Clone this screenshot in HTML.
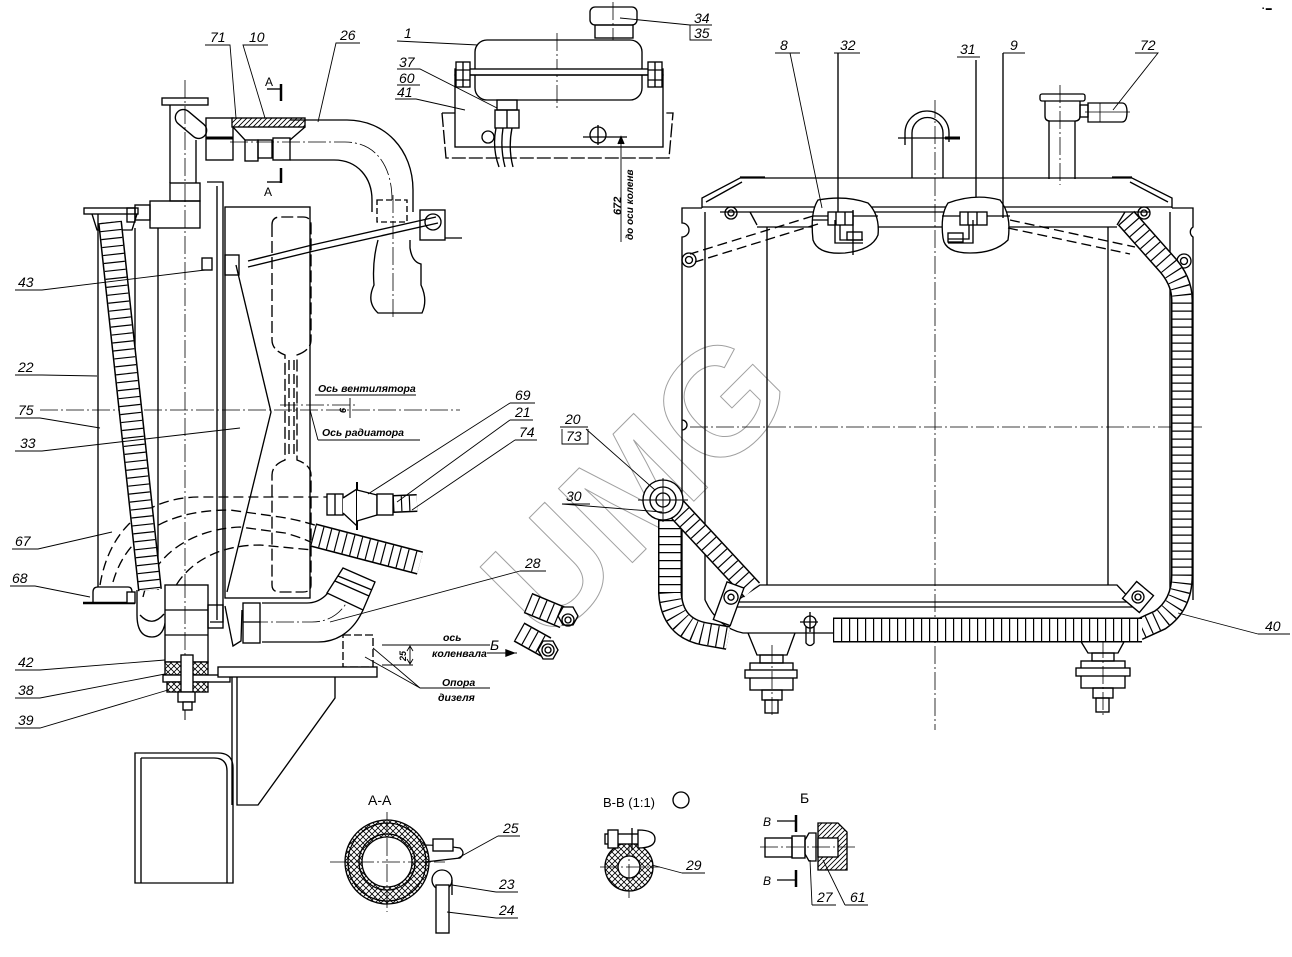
<!DOCTYPE html>
<html><head><meta charset="utf-8">
<style>
html,body{margin:0;padding:0;background:#fff;}
svg{display:block}
text{font-family:"Liberation Sans",sans-serif;font-style:italic;fill:#000;stroke:none}
.cl{stroke-dasharray:18 3 2 3;stroke-width:0.8}
.ds{stroke-dasharray:10 5}
</style></head><body>
<svg width="1292" height="957" viewBox="0 0 1292 957" xmlns="http://www.w3.org/2000/svg">
<defs>
<pattern id="xh" width="6" height="6" patternUnits="userSpaceOnUse"><rect width="6" height="6" fill="#fff"/><path d="M0 0L6 6M6 0L0 6" stroke="#000" stroke-width="0.8"/></pattern>
<pattern id="dh" width="5" height="5" patternUnits="userSpaceOnUse"><rect width="5" height="5" fill="#fff"/><path d="M0 5L5 0M-1 1L1 -1M4 6L6 4" stroke="#000" stroke-width="0.9"/></pattern>
<path id="h1" d="M110 222 L150 590"/>
<path id="h2" d="M313 535 L420 563"/>
<path id="h3" d="M393 504 L417 503"/>
<path id="h4" d="M1126 218 L1165 262 Q1182 280 1182 300 V575 Q1182 605 1160 620 L1138 630"/>
<path id="h5" d="M833 630 H1142"/>
<path id="h6" d="M670 520 V593 Q672 628 705 634 L728 638"/>
<path id="h7" d="M676 508 L752 590"/>
<path id="h8" d="M528 603 L564 618"/>
<path id="h9" d="M519 632 L546 647"/>
</defs>
<rect width="1292" height="957" fill="#fff"/>

<!-- UMG watermark -->
<text x="0" y="0" transform="translate(673,522) rotate(-45)" text-anchor="middle" font-size="152" font-weight="bold" style="font-style:normal;fill:none;stroke:#a0a0a0;stroke-width:1">UMG</text>

<g fill="none" stroke="#000" stroke-width="1.35">

<!-- ================= LEFT VIEW ================= -->
<path class="cl" d="M185 80 V720"/>
<path class="cl" d="M40 410 H460"/>
<path class="cl" d="M280 405 H356"/>
<path class="cl" d="M393 195 V320"/>
<path class="cl" d="M230 142 H345 C375 142 392 165 392 200"/>

<!-- filler neck -->
<rect x="162" y="98" width="46" height="7"/>
<path d="M170 105 V183 M196 140 V183"/>
<rect x="-18" y="-8" width="36" height="16" rx="8" transform="translate(191,124) rotate(40)"/>
<rect x="170" y="183" width="30" height="18"/>
<rect x="150" y="201" width="50" height="27"/>
<rect x="135" y="205" width="15" height="15"/>
<rect x="84" y="208" width="54" height="6"/>
<path d="M92 214 L97 230 H132 L137 214"/>
<rect x="127" y="208" width="8" height="14"/>

<!-- couplings -->
<rect x="206" y="118" width="27" height="42"/>
<path d="M206 138 H233" stroke-width="3"/>
<rect x="232" y="118" width="73" height="9" fill="url(#dh)"/>
<path d="M233 127 L245 140 M305 127 L290 140"/>
<rect x="245" y="140" width="13" height="21"/>
<rect x="258" y="140" width="14" height="18"/>
<rect x="273" y="138" width="17" height="22"/>

<!-- pipe 26 -->
<path d="M290 120 H347 C385 120 413 150 413 190 V212"/>
<path d="M290 160 H334 C358 160 372 178 372 200 V212"/>
<rect x="377" y="200" width="30" height="22" stroke-dasharray="6 3"/>
<rect x="420" y="210" width="25" height="30"/>
<circle cx="433" cy="222" r="8"/>
<path d="M445 238 H462"/>
<path d="M378 240 Q372 262 374 285 Q366 302 378 313 H422 Q428 300 421 285 V264 Q412 262 410 248 L410 240"/>
<!-- rod 43 -->
<path d="M436 217 L312 245 L248 261 M438 223 L314 251 L248 267"/>
<rect x="202" y="258" width="10" height="12"/>
<rect x="225" y="255" width="14" height="20"/>
<path d="M207 182 H223 V622 H210 M217 186 V620"/>

<!-- section A marks -->
<path d="M267 89 H280" /><path d="M281 84 V101" stroke-width="2.5"/>
<path d="M267 182 H280" /><path d="M281 168 V183" stroke-width="2.5"/>

<!-- left verticals -->
<path d="M98 214 V587 M135 228 V420 M158 228 V590"/>
<rect x="225" y="207" width="85" height="391"/>
<path stroke-dasharray="12 4" d="M272 225 V340 Q272 350 285 355 V460 Q272 465 272 475 V585 Q272 592 280 592 H303 Q311 592 311 585 V475 Q311 465 297 460 V355 Q311 350 311 340 V225 Q311 217 303 217 H280 Q272 217 272 225 Z"/>
<path stroke-dasharray="10 4" d="M289 360 V455 M294 360 V455"/>
<path d="M236 265 L271 412 L227 592"/>

<!-- dashed hoses 67 -->
<path class="ds" d="M100 585 C110 525 150 497 200 497 H330"/>
<path class="ds" d="M113 582 C125 540 160 510 230 510 L280 517 C300 520 315 525 330 530"/>
<path class="ds" d="M143 597 C150 565 180 530 240 527 L285 533 C300 537 312 542 320 547"/>
<path class="ds" d="M170 598 C180 570 210 545 260 545 L313 550"/>

<!-- hatched hoses left -->
<use href="#h1" stroke-width="24"/><use href="#h1" stroke="#fff" stroke-width="21"/><use href="#h1" stroke-width="21" stroke-dasharray="1.2 6.8"/>
<use href="#h2" stroke-width="24"/><use href="#h2" stroke="#fff" stroke-width="21"/><use href="#h2" stroke-width="21" stroke-dasharray="1.2 6.8"/>
<use href="#h3" stroke-width="18"/><use href="#h3" stroke="#fff" stroke-width="15"/><use href="#h3" stroke-width="15" stroke-dasharray="1.2 6.8"/>
<path d="M137 590 V615 Q137 637 152 637 Q166 637 166 612 M140 615 Q152 628 164 614"/>

<!-- fitting 69 -->
<rect x="327" y="494" width="16" height="21" fill="#fff"/>
<path d="M335 494 V515"/>
<path d="M343 498 L357 489 V526 L343 513" fill="#fff"/>
<path d="M357 482 V530" stroke-width="2"/>
<path d="M357 490 L377 495 V515 L357 521" fill="#fff"/>
<rect x="377" y="494" width="16" height="21" fill="#fff"/>

<!-- plate 68 -->
<path d="M93 603 V592 Q93 587 98 587 H128 Q132 587 132 592 V603" fill="#fff"/>
<path d="M83 603 H135" stroke-width="2.5"/>
<rect x="127" y="592" width="8" height="11" fill="#fff"/>

<!-- bottom block and mount -->
<rect x="165" y="585" width="43" height="77" fill="#fff"/>
<path d="M165 610 H208 M165 635 H208"/>
<path class="cl" d="M185 580 V720"/>
<rect x="208" y="605" width="15" height="23"/>
<rect x="165" y="662" width="43" height="13" fill="url(#xh)"/>
<rect x="163" y="675" width="67" height="7" fill="#fff"/>
<rect x="167" y="682" width="41" height="10" fill="url(#xh)"/>
<rect x="181" y="655" width="12" height="37" fill="#fff"/>
<rect x="178" y="692" width="17" height="10" fill="#fff"/>
<rect x="183" y="702" width="9" height="8" fill="#fff"/>

<rect x="243" y="603" width="17" height="40"/>
<path d="M243 622 H260"/>
<path d="M225 606 L233 646 L241 641 L242 610"/>

<!-- pipe 28 -->
<path d="M262 603 H307 C322 603 330 592 337 580"/>
<path d="M262 642 H318 C340 642 355 628 363 610"/>
<path class="cl" d="M250 622 H312 C332 622 345 610 352 592"/>
<polygon points="327,593 343,568 375,582 363,610" fill="#fff"/>
<path d="M335 581 L369 596 M338 576 L372 590"/>

<!-- support -->
<rect x="343" y="635" width="30" height="32" stroke-dasharray="8 3"/>
<rect x="218" y="667" width="159" height="10" fill="#fff"/>
<path d="M232 677 V805 M237 677 V805 H258 L335 698 V677"/>
<path d="M382 645 H490 M382 665 H413" stroke-width="0.9"/>
<path d="M410 647 V663" stroke-width="0.9"/>
<path d="M407 651 L410 646 L413 651 M407 659 L410 664 L413 659" stroke-width="0.9"/>
<path d="M373 648 L420 688 H490 M365 657 L420 688" stroke-width="0.9"/>
<path d="M135 753 H218 Q233 753 233 768 V883 H135 Z"/>
<path d="M141 758 V883 M141 758 H214 Q227 758 227 771 V883"/>

<!-- ================= EXPANSION TANK ================= -->
<rect x="590" y="7" width="47" height="18" rx="5"/>
<rect x="595" y="25" width="38" height="13"/>
<path class="cl" d="M613 2 V40 M557 33 V108"/>
<rect x="475" y="40" width="167" height="60" rx="12"/>
<rect x="455" y="69" width="208" height="6" fill="#fff"/>
<rect x="455" y="75" width="208" height="72"/>
<path d="M442 113 H455 M442 113 L446 158 H669 L673 113 H663" stroke-dasharray="14 3"/>
<rect x="456" y="62" width="14" height="25" fill="#fff"/><path d="M456 70 H470 M456 80 H470 M463 62 V87"/>
<rect x="648" y="62" width="14" height="25" fill="#fff"/><path d="M648 70 H662 M648 80 H662 M655 62 V87"/>
<rect x="497" y="100" width="20" height="10"/>
<rect x="495" y="110" width="24" height="18"/>
<path d="M507 110 V128"/>
<path d="M496 128 Q492 148 499 167 M503 128 Q500 148 505 167 M512 128 Q508 148 513 167"/>
<circle cx="488" cy="137" r="6"/>
<circle cx="598" cy="135" r="8"/>
<path d="M598 125 V145 M583 137 H627"/>
<path d="M621 137 V242" stroke-width="0.9"/>
<path d="M618 144 L621 137 L624 144" fill="#000"/>

<!-- ================= RIGHT VIEW ================= -->
<path class="cl" d="M935 100 V730"/>
<path class="cl" d="M1060 85 V185"/>
<path class="cl" d="M690 427 H1205"/>
<!-- top tank -->
<path d="M702 208 V198 L740 178 H1132 L1172 198 V208"/>
<path d="M706 202 L742 182 M1130 182 L1168 202"/>
<path d="M740 177 H765 M1112 177 H1132"/>
<path d="M702 207 H1172 M720 212 H1150 M757 227 H1117 M750 212 L757 225 M1125 212 L1117 225"/>
<!-- frame -->
<path d="M702 208 H682 V223 A7 7 0 0 1 682 237 V600"/>
<path d="M1172 208 H1193 V227 A6 6 0 0 0 1193 237 V600"/>
<path d="M705 212 V600 M1170 212 V595"/>
<path d="M767 227 V585 M1108 227 V585"/>
<path d="M682 420 A5 5 0 0 1 682 430"/>
<circle cx="731" cy="213" r="6"/><circle cx="731" cy="213" r="3"/>
<circle cx="689" cy="260" r="7"/><circle cx="689" cy="260" r="3.5"/>
<circle cx="1144" cy="213" r="6"/><circle cx="1144" cy="213" r="3"/>
<circle cx="1184" cy="261" r="7"/><circle cx="1184" cy="261" r="3.5"/>
<!-- filler neck -->
<path d="M912 178 V133 A15.5 15.5 0 0 1 943 133 V178"/>
<path d="M905 145 V133 A22 22 0 0 1 949 133 V142"/>
<path d="M898 138 H945"/><path d="M945 138 H960" stroke-width="3"/>
<!-- right neck -->
<rect x="1040" y="94" width="45" height="7" rx="2"/>
<path d="M1045 101 V116 Q1045 121 1050 121 H1075 Q1080 121 1080 116 V101"/>
<path d="M1049 121 V179 M1075 121 V179"/>
<rect x="1080" y="105" width="8" height="12"/>
<path d="M1088 103 H1122 Q1127 103 1127 112 Q1127 122 1122 122 H1088 Z"/>
<path d="M1100 103 V122 M1085 112 H1130" stroke-width="0.8"/>
<!-- bubbles -->
<path d="M818 200 Q845 195 868 203 Q880 215 878 235 Q872 250 845 253 Q818 255 813 240 Q810 212 818 200 Z" fill="#fff"/>
<path d="M948 203 Q975 193 1000 200 Q1012 215 1008 240 Q995 253 970 253 Q945 253 943 238 Q940 215 948 203 Z" fill="#fff"/>
<path d="M813 216 H878 M813 220 H828 M942 216 H1010"/>
<rect x="828" y="212" width="25" height="13" fill="#fff"/><path d="M836 212 V225 M845 212 V225"/>
<path d="M835 220 V243 H863 M840 225 V240 H863"/>
<rect x="847" y="232" width="15" height="8"/>
<path d="M853 210 V255 M838 53 V212"/>
<rect x="960" y="212" width="27" height="13" fill="#fff"/><path d="M968 212 V225 M977 212 V225"/>
<path d="M973 220 V243 H948 M969 225 V239 H948"/>
<rect x="948" y="233" width="15" height="9"/>
<path d="M976 60 V197 M1003 53 V218"/>
<!-- dashed lines to bolts -->
<path class="ds" d="M813 216 L690 254 M818 224 L695 262"/>
<path class="ds" d="M1010 220 L1135 247 M1008 228 L1130 254"/>
<!-- bottom tank -->
<path d="M760 585 H1117 L1133 602 H735 Z"/>
<path d="M735 607 H1140"/>
<path d="M705 600 Q718 628 743 633 H833"/>
<!-- feet -->
<path d="M748 633 L757 655 H787 L795 633"/>
<rect x="760" y="655" width="23" height="8"/>
<rect x="750" y="663" width="43" height="27"/>
<rect x="745" y="670" width="52" height="8" fill="#fff"/>
<rect x="762" y="690" width="20" height="10"/>
<rect x="765" y="700" width="13" height="13"/>
<path class="cl" d="M772 645 V718"/>
<path d="M1080 640 L1088 653 H1118 L1125 640"/>
<rect x="1092" y="653" width="22" height="8"/>
<rect x="1081" y="661" width="44" height="27"/>
<rect x="1076" y="668" width="54" height="8" fill="#fff"/>
<rect x="1093" y="688" width="20" height="10"/>
<rect x="1096" y="698" width="13" height="14"/>
<path class="cl" d="M1103 640 V718"/>
<circle cx="810" cy="622" r="6"/><path d="M810 612 V632 M800 622 H818"/>
<path d="M806 627 V643 Q810 648 814 643 V627"/>
<!-- right hoses -->
<use href="#h4" stroke-width="22"/><use href="#h4" stroke="#fff" stroke-width="19"/><use href="#h4" stroke-width="19" stroke-dasharray="1.2 6.8"/>
<use href="#h5" stroke-width="25"/><use href="#h5" stroke="#fff" stroke-width="22"/><use href="#h5" stroke-width="22" stroke-dasharray="1.2 6.8"/>
<use href="#h6" stroke-width="24"/><use href="#h6" stroke="#fff" stroke-width="21"/><use href="#h6" stroke-width="21" stroke-dasharray="1.2 6.8"/>
<use href="#h7" stroke-width="22"/><use href="#h7" stroke="#fff" stroke-width="19"/><use href="#h7" stroke-width="19" stroke-dasharray="1.2 6.8"/>
<!-- ring -->
<circle cx="663" cy="500" r="20" fill="#fff"/>
<circle cx="663" cy="500" r="13"/>
<circle cx="663" cy="500" r="7"/>
<path d="M638 500 H688 M663 478 V522" stroke-width="0.9"/>
<!-- brackets -->
<g transform="translate(730,600) rotate(20)"><rect x="-9" y="-16" width="18" height="40" fill="#fff"/><circle cx="0" cy="-3" r="7"/><circle cx="0" cy="-3" r="3"/></g>
<g transform="translate(1138,597) rotate(40)"><rect x="-11" y="-11" width="22" height="22" fill="#fff"/><circle r="6"/><circle r="3"/></g>

<!-- small hoses Б -->
<use href="#h8" stroke-width="22"/><use href="#h8" stroke="#fff" stroke-width="19"/><use href="#h8" stroke-width="19" stroke-dasharray="1.2 6.8"/>
<use href="#h9" stroke-width="22"/><use href="#h9" stroke="#fff" stroke-width="19"/><use href="#h9" stroke-width="19" stroke-dasharray="1.2 6.8"/>
<polygon points="558,616 563,607 573,607 578,616 573,625 563,625" fill="#fff"/>
<circle cx="568" cy="620" r="6"/><circle cx="568" cy="620" r="3"/>
<polygon points="538,650 543,641 553,641 558,650 553,659 543,659" fill="#fff"/>
<circle cx="548" cy="650" r="6"/><circle cx="548" cy="650" r="3"/>
<path d="M487 653 H517" stroke-width="1"/><path d="M506 650 L514 653 L506 656 Z" fill="#000"/>

<!-- ================= SECTION A-A ================= -->
<path d="M429 862 A42 42 0 1 0 345 862 A42 42 0 1 0 429 862 Z M412 862 A25 25 0 1 1 362 862 A25 25 0 1 1 412 862 Z" fill="url(#xh)" fill-rule="evenodd"/>
<circle cx="387" cy="862" r="39"/>
<circle cx="387" cy="862" r="28"/>
<path d="M330 862 H445 M387 812 V912" class="cl"/>
<path d="M423 845 Q440 845 460 848 Q466 853 460 858 L425 862"/>
<rect x="433" y="839" width="20" height="12" fill="#fff"/>
<circle cx="442" cy="880" r="10" fill="#fff"/>
<rect x="436" y="885" width="13" height="48" fill="#fff"/>
<path d="M452 880 V895"/>

<!-- ================= SECTION B-B ================= -->
<circle cx="681" cy="800" r="8"/>
<path d="M653 867 A24 24 0 1 0 605 867 A24 24 0 1 0 653 867 Z M640 867 A11 11 0 1 1 618 867 A11 11 0 1 1 640 867 Z" fill="url(#xh)" fill-rule="evenodd"/>
<path d="M600 867 H660 M629 838 V898" class="cl"/>
<rect x="605" y="834" width="35" height="10" fill="#fff"/>
<rect x="608" y="830" width="10" height="18" fill="#fff"/>
<path d="M638 830 Q655 830 655 839 Q655 848 638 848 Z" fill="#fff"/>
<path d="M632 828 V850"/>

<!-- view Б -->
<path d="M777 821 H795 M777 880 H795"/>
<path d="M796 815 V832 M796 870 V887" stroke-width="2.5"/>
<rect x="765" y="838" width="27" height="19"/>
<rect x="792" y="836" width="13" height="22"/>
<path d="M805 840 L809 833 H816 V861 H809 L805 854 Z"/>
<path d="M818 823 H838 L847 832 V870 H818 Z" fill="url(#dh)"/>
<rect x="818" y="838" width="20" height="19" fill="#fff"/>
<path class="cl" d="M760 847 H855"/>
</g>

<!-- ================= LABELS ================= -->
<g stroke="#000" stroke-width="0.9" fill="none">
<path d="M205 45 H230 L236 118"/>
<path d="M268 45 H243 L265 118"/>
<path d="M360 43 H336 L318 122"/>
<path d="M397 41 L478 45"/>
<path d="M397 69 H420 L497 108 M397 85 H420"/>
<path d="M395 99 H416 L465 110"/>
<path d="M620 18 L690 25 H712 M690 25 V40 H712"/>
<path d="M775 53 H800 M790 53 L822 208"/>
<path d="M834 53 H860"/>
<path d="M957 57 H980"/>
<path d="M1003 53 H1025"/>
<path d="M1135 53 H1158 L1113 110"/>
<path d="M15 290 H42 L205 270"/>
<path d="M15 375 H42 L97 376"/>
<path d="M15 418 H40 L100 428"/>
<path d="M15 451 H42 L240 428"/>
<path d="M12 549 H38 L112 532"/>
<path d="M10 586 H35 L90 597"/>
<path d="M15 670 H40 L165 660"/>
<path d="M15 698 H40 L165 674"/>
<path d="M15 728 H40 L168 690"/>
<path d="M510 403 H535 M510 403 L368 494"/>
<path d="M510 420 H533 M510 420 L397 502"/>
<path d="M515 440 H537 M515 440 L412 510"/>
<path d="M560 427 H588 M562 429 V444 H588 V429 M586 429 L655 490"/>
<path d="M562 504 H590 M562 504 L662 512"/>
<path d="M520 571 H546 M520 571 L330 622"/>
<path d="M1258 634 H1290 M1258 634 L1178 613"/>
<path d="M498 836 H520 M498 836 L458 858"/>
<path d="M496 892 H518 M496 892 L452 885"/>
<path d="M496 918 H518 M496 918 L447 912"/>
<path d="M682 873 H705 M682 873 L652 865"/>
<path d="M812 905 H836 M812 905 L810 860"/>
<path d="M845 905 H868 M845 905 L823 860"/>
<path d="M315 395 H416 M318 440 H420 M318 440 L310 410"/>
<path d="M350 398 V418"/>
</g>

<g font-size="14">
<text x="210" y="42">71</text>
<text x="249" y="42">10</text>
<text x="340" y="40">26</text>
<text x="404" y="38">1</text>
<text x="399" y="67">37</text>
<text x="399" y="83">60</text>
<text x="397" y="97">41</text>
<text x="694" y="23">34</text>
<text x="694" y="38">35</text>
<text x="780" y="50">8</text>
<text x="840" y="50">32</text>
<text x="960" y="54">31</text>
<text x="1010" y="50">9</text>
<text x="1140" y="50">72</text>
<text x="265" y="86" font-size="12" style="font-style:normal">A</text>
<text x="264" y="196" font-size="12" style="font-style:normal">A</text>
<text x="18" y="287">43</text>
<text x="18" y="372">22</text>
<text x="18" y="415">75</text>
<text x="20" y="448">33</text>
<text x="15" y="546">67</text>
<text x="12" y="583">68</text>
<text x="18" y="667">42</text>
<text x="18" y="695">38</text>
<text x="18" y="725">39</text>
<text x="515" y="400">69</text>
<text x="515" y="417">21</text>
<text x="519" y="437">74</text>
<text x="565" y="424">20</text>
<text x="566" y="441">73</text>
<text x="566" y="501">30</text>
<text x="525" y="568">28</text>
<text x="1265" y="631">40</text>
<text x="490" y="650">Б</text>
<text x="503" y="833">25</text>
<text x="499" y="889">23</text>
<text x="499" y="915">24</text>
<text x="686" y="870">29</text>
<text x="817" y="902">27</text>
<text x="850" y="902">61</text>
<text x="368" y="805" style="font-style:normal">А-А</text>
<text x="603" y="807" font-size="13" style="font-style:normal">В-В (1:1)</text>
<text x="800" y="803" style="font-style:normal">Б</text>
<text x="763" y="826" font-size="12">В</text>
<text x="763" y="885" font-size="12">В</text>
</g>
<g font-size="10.5" font-weight="bold">
<text x="318" y="392">Ось вентилятора</text>
<text x="322" y="436">Ось радиатора</text>
<text x="443" y="641">ось</text>
<text x="432" y="657">коленвала</text>
<text x="442" y="686">Опора</text>
<text x="438" y="701">дизеля</text>
<text transform="translate(406,661) rotate(-90)" font-size="9">25</text>
<text transform="translate(346,413) rotate(-90)" font-size="9">6</text>
<text transform="translate(621,215) rotate(-90)" font-size="11">672</text>
<text transform="translate(633,240) rotate(-90)" font-size="10">до оси коленв</text>
</g>
<text x="1262" y="10" font-size="6" fill="#999" style="font-style:normal">▪ ▬</text>
</svg>
</body></html>
